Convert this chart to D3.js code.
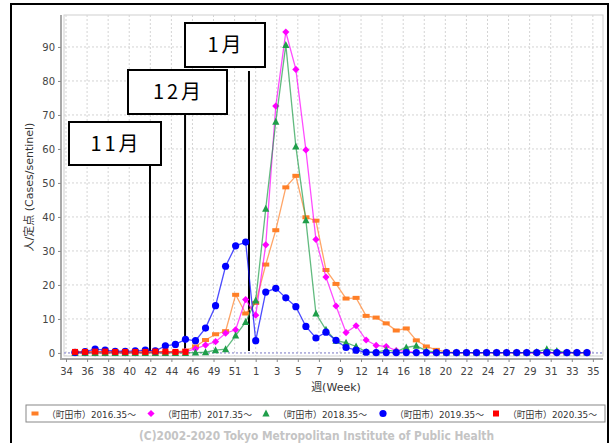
<!DOCTYPE html>
<html>
<head>
<meta charset="utf-8">
<script src="https://cdn.jsdelivr.net/npm/d3@7"></script>
<style>
body { margin: 0; background: #fff; }
svg text { font-family: "DejaVu Sans", "Noto Sans CJK JP", sans-serif; }
</style>
</head>
<body>
<div id="container"></div>
<script>
// week numbers of the season, week 35 to week 34 of the next year
var weeks = [35, 36, 37, 38, 39, 40, 41, 42, 43, 44, 45, 46, 47, 48, 49, 50, 51, 52,
    1, 2, 3, 4, 5, 6, 7, 8, 9, 10, 11, 12, 13, 14, 15, 16, 17, 18, 19, 20, 21, 22, 23, 24,
    25, 26, 27, 28, 29, 30, 31, 32, 33, 34];

// cases per sentinel, one value per week
var s2016 = [0.1, 0.1, 0.1, 0.1, 0.1, 0.1, 0.1, 0.1, 0.1, 0.1, 0.3, 0.7, 1.9, 3.8, 5.5, 6.4, 17.1, 11.6,
    14.7, 26, 36.1, 48.7, 52.1, 39.9, 38.9, 24.4, 20.3, 16.0, 16.2, 10.9, 10.4, 8.7, 6.6, 7.2, 3.7, 1.9,
    0.9, 0.3, 0.1, 0.1, 0.1, 0.1, 0.1, 0.1, 0.1, 0.1, 0.1, 0.1, 0.1, 0.1, 0.1, 0.1];
var s2017 = [0, 0, 0, 0, 0.1, 0, 0, 0.1, 0.1, 0.1, 0.2, 0.4, 1.2, 2.3, 3.3, 5.8, 6.8, 15.7,
    11.1, 31.8, 72.6, 94.4, 83.4, 59.7, 33.4, 22.3, 13.8, 6.0, 8.0, 3.8, 2.2, 1.9, 0.7, 0.5, 0.1, 0,
    0, 0, 0, 0, 0, 0, 0, 0, 0, 0, 0, 0, 0, 0, 0, 0];
var s2018 = [0, 0, 0, 0, 0, 0, 0, 0, 0, 0, 0, 0, 0.1, 0.2, 0.8, 1.1, 5.1, 9.1,
    15.4, 42.4, 68.0, 90.6, 60.7, 39.0, 11.6, 6.8, 3.6, 3.0, 1.9, 0.3, 0.2, 0.9, 0.4, 1.6, 2.1, 0.6,
    0.2, 0.1, 0.1, 0.1, 0.1, 0.1, 0.1, 0.1, 0.1, 0.1, 0.3, 1.1, 0.6, 0.1, 0.1, 0.1];
var s2019 = [0.2, 0.4, 1.1, 0.8, 0.5, 0.5, 0.6, 0.8, 0.6, 2.1, 2.5, 4.0, 3.6, 7.3, 13.9, 25.5, 31.5, 32.6,
    3.6, 17.9, 19.0, 16.2, 13.6, 7.8, 4.4, 6.1, 3.7, 1.6, 0.8, 0.2, 0.1, 0.1, 0.1, 0.1, 0.1, 0.1,
    0.1, 0.1, 0.1, 0.1, 0.1, 0.1, 0.1, 0.1, 0.1, 0.1, 0.1, 0.1, 0.1, 0.1, 0.1, 0.1];
var s2020 = [0.3, 0.3, 0.4, 0.4, 0.3, 0.3, 0.3, 0.3, 0.4, 0.4, 0.3, 0.3];

var seriesNames = ["（町田市）2016.35～", "（町田市）2017.35～", "（町田市）2018.35～",
    "（町田市）2019.35～", "（町田市）2020.35～"];
var seriesColors = ["#ff7f27", "#ff00ff", "#1f9e4a", "#0000ff", "#ff0000"];
var seriesShapes = ["bar", "diamond", "triangle", "circle", "square"];
var seriesData = [s2016, s2017, s2018, s2019, s2020];

// x tick labels (date axis labelled with week numbers)
var xTickLabels = ["34", "36", "38", "40", "42", "44", "46", "49", "51", "1", "3", "5", "7",
    "9", "12", "14", "16", "18", "20", "22", "24", "27", "29", "31", "33", "35"];
var yTicks = [0, 10, 20, 30, 40, 50, 60, 70, 80, 90];

// month markers: label and week index of the line
var monthLabels = ["11月", "12月", "1月"];
var monthPos = [7.47, 10.96, 17.33];

var width = 611, height = 443;
var plot = { left: 64, right: 603, top: 15, bottom: 356 };

var svg = d3.select("#container").append("svg")
    .attr("width", width)
    .attr("height", height);

var x = d3.scaleLinear().domain([-1.1, 52.6]).range([plot.left, plot.right]);
var y = d3.scaleLinear().domain([-0.9, 99.4]).range([plot.bottom, plot.top]);

//outer frame
svg.append("rect")
    .attr("x", 11).attr("y", 4)
    .attr("width", 597).attr("height", 470)
    .attr("fill", "none")
    .attr("stroke", "#000")
    .attr("stroke-width", 2);

//plot area
svg.append("rect")
    .attr("x", plot.left).attr("y", plot.top)
    .attr("width", plot.right - plot.left).attr("height", plot.bottom - plot.top)
    .attr("fill", "#fff")
    .attr("stroke", "#cfcfcf");

//tick positions, every ~2 weeks
var xTickPos = xTickLabels.map(function (d, i) { return -0.9 + i * 2.0996; });

//grid
var grid = svg.append("g");
grid.selectAll(".vg").data(xTickPos).enter().append("line")
    .attr("x1", function (d) { return x(d); })
    .attr("x2", function (d) { return x(d); })
    .attr("y1", plot.top).attr("y2", plot.bottom)
    .attr("stroke", "#d4d4d4")
    .attr("stroke-dasharray", "2,2");
grid.selectAll(".hg").data(yTicks).enter().append("line")
    .attr("x1", plot.left).attr("x2", plot.right)
    .attr("y1", function (d) { return y(d); })
    .attr("y2", function (d) { return y(d); })
    .attr("stroke", "#d4d4d4")
    .attr("stroke-dasharray", "2,2");

//zero line
svg.append("line")
    .attr("x1", plot.left).attr("x2", plot.right)
    .attr("y1", y(0)).attr("y2", y(0))
    .attr("stroke", "#8c8cd8")
    .attr("stroke-dasharray", "2,2");

//axes
var xAxis = svg.append("g")
    .attr("transform", "translate(0," + 359 + ")")
    .call(d3.axisBottom(x)
        .tickValues(xTickPos)
        .tickFormat(function (d, i) { return xTickLabels[i]; })
        .tickSize(3)
        .tickSizeOuter(0));
xAxis.select(".domain").attr("stroke", "#a8a8a8").attr("stroke-width", 2)
    .attr("d", "M" + (plot.left - 2) + ",0H" + plot.right);
xAxis.selectAll(".tick line").attr("stroke", "#888");
xAxis.selectAll("text").attr("font-size", 10).attr("fill", "#444").attr("dy", "0.95em");

var yAxis = svg.append("g")
    .attr("transform", "translate(" + 61 + ",0)")
    .call(d3.axisLeft(y).tickValues(yTicks).tickSize(3).tickSizeOuter(0));
yAxis.select(".domain").attr("stroke", "#a8a8a8").attr("stroke-width", 2)
    .attr("d", "M0," + plot.top + "V" + (plot.bottom + 4));
yAxis.selectAll(".tick line").attr("stroke", "#888");
yAxis.selectAll("text").attr("font-size", 10).attr("fill", "#444").attr("x", -6);

//axis titles
svg.append("text")
    .attr("x", 336).attr("y", 391)
    .attr("text-anchor", "middle")
    .attr("font-size", 11)
    .attr("fill", "#333")
    .text("週(Week)");
svg.append("text")
    .attr("transform", "translate(33,187) rotate(-90)")
    .attr("text-anchor", "middle")
    .attr("font-size", 11)
    .attr("fill", "#333")
    .text("人/定点 (Cases/sentinel)");

//month marker boxes
var boxes = [
    { x0: 69, x1: 161, y0: 122, y1: 165 },
    { x0: 128, x1: 227, y0: 70, y1: 114 },
    { x0: 185, x1: 265, y0: 23, y1: 67 }
];
var marks = svg.append("g");
monthLabels.forEach(function (lab, i) {
    var b = boxes[i];
    marks.append("line")
        .attr("x1", x(monthPos[i])).attr("x2", x(monthPos[i]))
        .attr("y1", i == 2 ? b.y1 + 4 : b.y1).attr("y2", 351)
        .attr("stroke", "#000")
        .attr("stroke-width", 2);
    marks.append("rect")
        .attr("x", b.x0).attr("y", b.y0)
        .attr("width", b.x1 - b.x0).attr("height", b.y1 - b.y0)
        .attr("fill", "#fff")
        .attr("stroke", "#000")
        .attr("stroke-width", 2);
    marks.append("text")
        .attr("x", (b.x0 + b.x1) / 2 + 1).attr("y", (b.y0 + b.y1) / 2 + 7)
        .attr("text-anchor", "middle")
        .attr("font-size", 20)
        .attr("letter-spacing", 3)
        .style("font-family", "'Noto Sans CJK JP', sans-serif")
        .attr("fill", "#000")
        .text(lab);
});

//marker drawing
function marker(sel, shape, color) {
    if (shape == "circle") {
        sel.append("circle").attr("r", 3.6).attr("fill", color);
    } else if (shape == "square") {
        sel.append("rect").attr("x", -3).attr("y", -3).attr("width", 6).attr("height", 6).attr("fill", color);
    } else if (shape == "bar") {
        sel.append("rect").attr("x", -3.5).attr("y", -2).attr("width", 7).attr("height", 4).attr("fill", color);
    } else if (shape == "diamond") {
        sel.append("path").attr("d", "M0,-3.6L3.6,0L0,3.6L-3.6,0Z").attr("fill", color);
    } else {
        sel.append("path").attr("d", "M0,-4L3.6,3L-3.6,3Z").attr("fill", color);
    }
}

var line = d3.line()
    .x(function (d, i) { return x(i); })
    .y(function (d) { return y(d); });

seriesData.forEach(function (data, s) {
    var g = svg.append("g");
    g.append("path")
        .attr("d", line(data))
        .attr("fill", "none")
        .attr("stroke", seriesColors[s])
        .attr("stroke-opacity", 0.7)
        .attr("stroke-width", 1.3);
    g.selectAll(".pt").data(data).enter().append("g")
        .attr("transform", function (d, i) { return "translate(" + x(i) + "," + y(d) + ")"; })
        .each(function () { marker(d3.select(this), seriesShapes[s], seriesColors[s]); });
});

//legend
svg.append("rect")
    .attr("x", 26).attr("y", 405)
    .attr("width", 579).attr("height", 17)
    .attr("fill", "#fff")
    .attr("stroke", "#888");
var legendX = [35, 151, 266, 383, 496];
seriesNames.forEach(function (name, s) {
    var lg = svg.append("g").attr("transform", "translate(" + legendX[s] + ",413.5)");
    marker(lg, seriesShapes[s], seriesColors[s]);
    lg.append("text")
        .attr("x", 12).attr("y", 4)
        .attr("font-size", 9.5)
        .attr("fill", "#333")
        .attr("textLength", 89)
        .attr("lengthAdjust", "spacingAndGlyphs")
        .text(name);
});

//credit
svg.append("text")
    .attr("x", 139).attr("y", 440)
    .attr("font-size", 12)
    .attr("font-weight", "bold")
    .attr("fill", "#c4c4c4")
    .attr("textLength", 355)
    .attr("lengthAdjust", "spacingAndGlyphs")
    .text("(C)2002-2020 Tokyo Metropolitan Institute of Public Health");
</script>
</body>
</html>
